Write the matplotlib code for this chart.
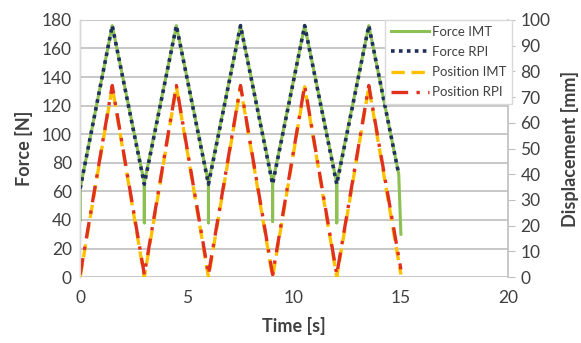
import matplotlib.pyplot as plt

plt.rcParams['font.family'] = ['Lato', 'DejaVu Sans']

# Force data (N)
t_force_imt = [0, 0, 1.5, 3, 3, 3, 4.5, 6, 6, 6, 7.5, 9, 9, 9, 10.5, 12, 12, 12, 13.5, 14.9, 15.0]
force_imt = [40, 62, 176, 66, 38, 66, 176, 66, 38, 66, 176, 66, 39, 66, 176, 66, 38, 66, 176, 72, 30]
t_force_rpi = [0, 1.5, 3, 4.5, 6, 7.5, 9, 10.5, 12, 13.5, 14.9]
force_rpi = [62, 176, 65, 176, 65, 176, 65, 176, 65, 176, 72]

# Position data (mm)
t_pos = [0, 1.5, 3, 4.5, 6, 7.5, 9, 10.5, 12, 13.5, 15]
pos_imt = [0, 74, 0, 74, 0, 74, 0, 74, 0, 74, 1]
pos_rpi = [1, 74.5, 1, 74.5, 1, 74.5, 1, 74.5, 1, 74.5, 3]

fig = plt.figure(figsize=(5.81, 3.43), dpi=100)
ax = fig.add_axes([0.138, 0.192, 0.736, 0.750])
ax2 = ax.twinx()

txt = '#404040'
grid = '#bfbfbf'

l1, = ax.plot(t_force_imt, force_imt, color='#8cc152', lw=2.2, label='Force IMT')
l2, = ax.plot(t_force_rpi, force_rpi, color='#1f2f5c', lw=2.6, ls=(0, (1, 1.2)), label='Force RPI')
l3, = ax2.plot(t_pos, pos_imt, color='#ffc000', lw=2.4, ls=(0, (4, 2)), label='Position IMT')
l4, = ax2.plot(t_pos, pos_rpi, color='#e0301e', lw=2.4, ls=(0, (5, 2.5, 1, 2.5)), label='Position RPI')

ax.set_xlim(0, 20)
ax.set_ylim(0, 180)
ax.set_xticks([0, 5, 10, 15, 20])
ax.set_yticks(range(0, 181, 20))
ax2.set_ylim(0, 100)
ax2.set_yticks(range(0, 101, 10))

ax.grid(axis='y', color=grid, lw=1.2)
ax.set_axisbelow(True)
for s in ['top', 'bottom']:
    ax.spines[s].set_visible(False)
    ax2.spines[s].set_visible(False)
ax.spines['right'].set_visible(False)
ax2.spines['left'].set_color('#d9d9d9')
ax2.spines['right'].set_color(grid)
ax2.spines['right'].set_linewidth(1.2)

ax.tick_params(axis='both', length=0, labelsize=12.5, colors=txt, pad=6)
ax.tick_params(axis='x', pad=9)
ax2.tick_params(axis='y', length=5, color=grid, labelsize=12.5, labelcolor=txt, pad=4)

ax.set_xlabel('Time [s]', fontsize=13, fontweight='bold', color=txt, labelpad=8)
ax.set_ylabel('Force [N]', fontsize=13, fontweight='bold', color=txt, labelpad=6)
ax2.set_ylabel('Displacement [mm]', fontsize=13, fontweight='bold', color=txt, labelpad=8)

leg = ax2.legend(handles=[l1, l2, l3, l4], loc='upper right', bbox_to_anchor=(1.01, 1.0),
                 fontsize=9.5, frameon=True, fancybox=False, handlelength=2.9,
                 handletextpad=0.2, borderpad=0.45, labelspacing=0.62, borderaxespad=0)
leg.get_frame().set_edgecolor('#d9d9d9')
leg.get_frame().set_linewidth(1)
leg.get_frame().set_alpha(1)
for t in leg.get_texts():
    t.set_color(txt)

fig.savefig('out.png', dpi=100)
